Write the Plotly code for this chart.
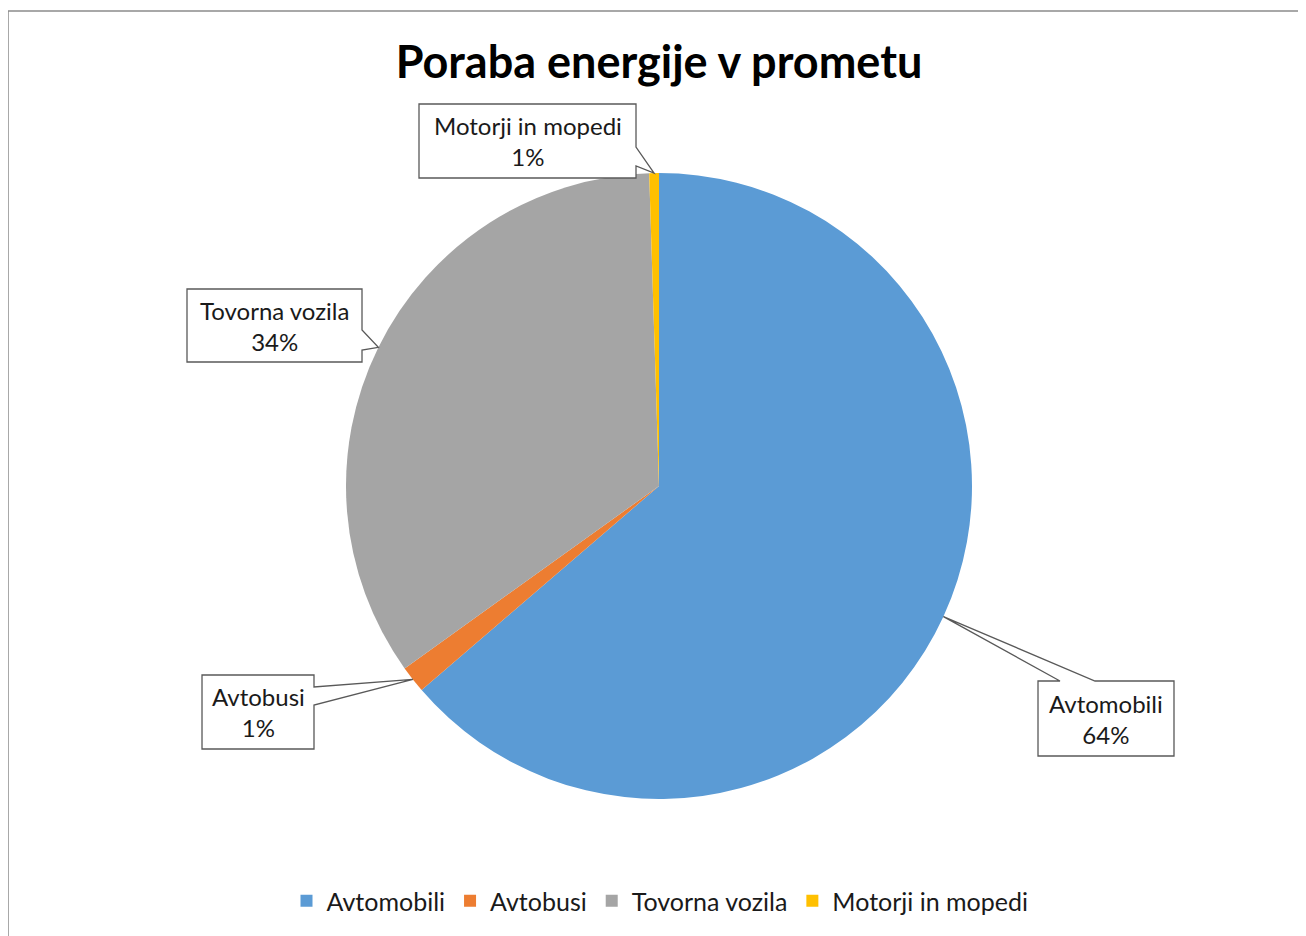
import math
import plotly.graph_objects as go

# data
categories = ['Avtomobili', 'Avtobusi', 'Tovorna vozila', 'Motorji in mopedi']
shares = [63.7, 1.4, 34.4, 0.5]
colors = ['#5B9BD5', '#ED7D31', '#A5A5A5', '#FFC000']

W, H = 1306, 936
OFF = 8                      # page body margin in the browser
cx, cy, r = 659, 486, 313    # pie centre / radius in px (screen)


def px(x, y):
    return (x - OFF) / W, 1 - (y - OFF) / H


# callout boxes (px): x0, y0, x1, y1, edge of the wedge, wedge base from/to
callouts = {
    'Motorji in mopedi': (419, 104, 636, 178, 'right', 147, 166),
    'Tovorna vozila': (187, 289, 362, 362, 'right', 330, 350),
    'Avtobusi': (202, 675, 314, 749, 'right', 687, 705),
    'Avtomobili': (1038, 681, 1174, 756, 'top', 1060, 1095),
}

dx0, dy0 = px(cx - r, cy + r)
dx1, dy1 = px(cx + r, cy - r)
fig = go.Figure(go.Pie(
    labels=categories,
    values=shares,
    marker=dict(colors=colors, line=dict(width=0)),
    sort=False,
    direction='clockwise',
    rotation=0,
    textinfo='none',
    hoverinfo='label+percent',
    domain=dict(x=[dx0, dx1], y=[dy0, dy1]),
))

total = sum(shares)
shapes = []
annotations = []
start = 0.0
for cat, v in zip(categories, shares):
    frac = v / total
    mid = (start + frac / 2) * 2 * math.pi
    start += frac
    tx = cx + r * math.sin(mid)
    ty = cy - r * math.cos(mid)
    x0, y0, x1, y1, edge, a, b = callouts[cat]
    if edge == 'right':
        pts = [(x0, y0), (x1, y0), (x1, a), (tx, ty), (x1, b), (x1, y1), (x0, y1)]
    else:
        pts = [(x0, y0), (a, y0), (tx, ty), (b, y0), (x1, y0), (x1, y1), (x0, y1)]
    path = 'M ' + ' L '.join('%.5f,%.5f' % px(*p) for p in pts) + ' Z'
    shapes.append(dict(type='path', xref='paper', yref='paper', path=path,
                       fillcolor='white', line=dict(color='#595959', width=1.3),
                       layer='above'))
    pct = math.floor(frac * 100 + 0.5)
    mx, my = px((x0 + x1) / 2, (y0 + y1) / 2)
    annotations.append(dict(x=mx, y=my, xref='paper', yref='paper',
                            xanchor='center', yanchor='middle',
                            text='%s<br>%d%%' % (cat, pct), showarrow=False,
                            font=dict(size=24, color='#1a1a1a'), align='center'))

# chart border
bx, by = px(8, 11)
shapes.append(dict(type='rect', xref='paper', yref='paper',
                   x0=bx, x1=1.05, y0=-0.05, y1=by,
                   line=dict(color='#8c8c8c', width=1.5), layer='below'))

tx_, ty_ = px(659, 62)
lx_, ly_ = px(660, 901)
fig.update_layout(
    width=W, height=H,
    margin=dict(l=0, r=0, t=0, b=0),
    paper_bgcolor='white',
    font=dict(family='Lato, "Open Sans", sans-serif', color='#1a1a1a'),
    title=dict(text='<b>Poraba energije v prometu</b>', x=tx_, xanchor='center',
               y=ty_, yanchor='middle', font=dict(size=45, color='black')),
    legend=dict(orientation='h', x=lx_, xanchor='center', y=ly_,
                yanchor='middle', font=dict(size=25, color='#1a1a1a'),
                itemwidth=30, traceorder='normal'),
    shapes=shapes,
    annotations=annotations,
)

fig.write_html('out.html')
